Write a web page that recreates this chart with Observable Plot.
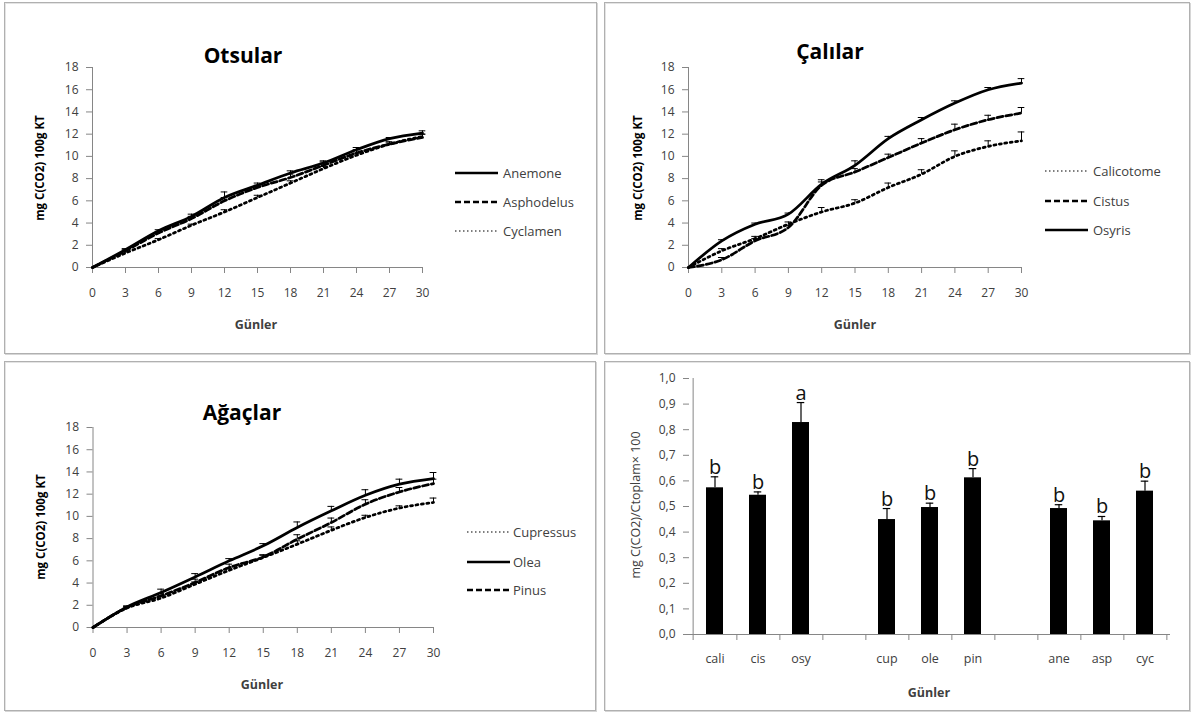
<!DOCTYPE html>
<html><head><meta charset="utf-8">
<script src="https://cdn.jsdelivr.net/npm/d3@7"></script>
<script src="https://cdn.jsdelivr.net/npm/@observablehq/plot@0.6"></script>
<style>
html,body{margin:0;padding:0;background:#fff;}
body{width:1192px;height:713px;position:relative;overflow:hidden;font-family:'Open Sans',sans-serif;}
.panel{position:absolute;box-sizing:border-box;border:1px solid #b0b0b0;box-shadow:1px 1px 0 #d6d6d6, inset 1px 1px 0 #e4e4e4;background:#fff;}
.panel svg{position:absolute;left:0;top:0;overflow:visible;}
.lab{position:absolute;white-space:nowrap;line-height:1;color:#404040;}
.leg{position:absolute;}
</style></head>
<body>
<script>
// ---------- data ----------
const days = [0,3,6,9,12,15,18,21,24,27,30];
const lineYTicks = [0,2,4,6,8,10,12,14,16,18];

// Otsular
const anemone      = [0,1.6,3.3,4.6,6.3,7.4,8.5,9.4,10.6,11.6,12.1];
const anemoneErr   = [0,0.1,0.1,0.2,0.5,0.2,0.2,0.2,0.2,0.1,0.2];
const asphodelus   = [0,1.5,3.1,4.4,6.0,7.2,8.1,9.2,10.3,11.1,11.7];
const asphodelusErr= [0,0.1,0.1,0.2,0.3,0.2,0.3,0.3,0.3,0.2,0.3];
const cyclamen     = [0,1.3,2.5,3.8,5.0,6.3,7.6,8.9,10.1,11.1,11.8];
const cyclamenErr  = [0,0.1,0.1,0.1,0.2,0.2,0.2,0.2,0.2,0.2,0.2];

// Çalılar
const calicotome    = [0,1.5,2.6,3.9,5.0,5.8,7.2,8.4,10.0,10.9,11.4];
const calicotomeErr = [0,0.2,0.2,0.2,0.4,0.3,0.4,0.4,0.5,0.5,0.8];
const cistus        = [0,0.7,2.4,3.6,7.4,8.6,9.9,11.2,12.4,13.3,13.9];
const cistusErr     = [0,0.2,0.2,0.2,0.3,0.3,0.3,0.4,0.5,0.4,0.5];
const osyris        = [0,2.4,3.9,4.8,7.5,9.2,11.6,13.3,14.8,16.0,16.6];
const osyrisErr     = [0,0.1,0.1,0.1,0.4,0.4,0.2,0.2,0.2,0.2,0.4];

// Ağaçlar
const cupressus    = [0,1.75,2.65,3.9,5.15,6.3,7.5,8.75,9.9,10.75,11.25];
const cupressusErr = [0,0.1,0.2,0.2,0.2,0.2,0.3,0.3,0.2,0.2,0.4];
const olea         = [0,1.85,3.15,4.55,6.0,7.35,9.0,10.5,11.9,12.9,13.4];
const oleaErr      = [0,0.1,0.3,0.3,0.2,0.2,0.5,0.4,0.5,0.45,0.55];
const pinus        = [0,1.8,2.85,4.05,5.4,6.35,7.95,9.45,11.1,12.2,12.95];
const pinusErr     = [0,0.1,0.2,0.3,0.3,0.2,0.4,0.4,0.4,0.4,0.4];

// Bar panel
const barCategories = ["cali","cis","osy","cup","ole","pin","ane","asp","cyc"];
const barGroups     = [0,0,0,1,1,1,2,2,2];
const barValues     = [0.573,0.544,0.828,0.449,0.496,0.612,0.492,0.444,0.560];
const barErrors     = [0.043,0.013,0.078,0.043,0.017,0.036,0.015,0.017,0.039];
const barLetters    = ["b","b","a","b","b","b","b","b","b"];
const barYTicks     = [0,0.1,0.2,0.3,0.4,0.5,0.6,0.7,0.8,0.9,1.0];

// ---------- styles ----------
const SOLID = null, DASH = "6,3", DOT = "2,3.5";
const AXIS = "#868686", TXT = "#404040";
const FONT = "'Open Sans', sans-serif";

// ---------- layout ----------
const panels = [
  {left:4,   top:2,   w:593, h:352, area:{x0:92,  x1:422,  yTop:67,  yBot:267}},
  {left:604, top:2,   w:586, h:352, area:{x0:688, x1:1021, yTop:67,  yBot:267}},
  {left:4,   top:361, w:592, h:350, area:{x0:92.5,x1:433,  yTop:427, yBot:627}},
  {left:604, top:361, w:586, h:350, area:{x0:689, x1:1170, yTop:378, yBot:634}}
];

function makePanel(p){
  const d = document.createElement("div");
  d.className = "panel";
  Object.assign(d.style,{left:p.left+"px",top:p.top+"px",width:p.w+"px",height:p.h+"px"});
  document.body.appendChild(d);
  return d;
}
function margins(p){
  const W = p.w-2, H = p.h-2, ox = p.left+1, oy = p.top+1, a = p.area;
  return {width:W, height:H, marginLeft:a.x0-ox, marginRight:ox+W-a.x1, marginTop:a.yTop-oy, marginBottom:oy+H-a.yBot};
}
function label(div, p, text, cx, cy, css, rotate){
  const s = document.createElement("div");
  s.className = "lab";
  s.textContent = text;
  s.style.left = (cx-p.left-1)+"px";
  s.style.top = (cy-p.top-1)+"px";
  s.style.transform = "translate(-50%,-50%)" + (rotate ? " rotate(-90deg)" : "");
  Object.assign(s.style, css||{});
  div.appendChild(s);
}
function legend(div, p, items, lx1, lx2, tx, ys){
  items.forEach((it,i)=>{
    const y = ys[i];
    const svg = document.createElementNS("http://www.w3.org/2000/svg","svg");
    svg.setAttribute("width", lx2-lx1); svg.setAttribute("height", 10);
    svg.setAttribute("class","leg");
    svg.style.left = (lx1-p.left-1)+"px"; svg.style.top = (y-5-p.top-1)+"px";
    const ln = document.createElementNS("http://www.w3.org/2000/svg","line");
    ln.setAttribute("x1",0); ln.setAttribute("x2",lx2-lx1); ln.setAttribute("y1",5); ln.setAttribute("y2",5);
    ln.setAttribute("stroke", it.dash === DOT ? "#555" : "#000");
    ln.setAttribute("stroke-width", it.dash === DOT ? 1.5 : 2.5);
    if (it.dash) ln.setAttribute("stroke-dasharray", it.dash === DOT ? "1.5,2.5" : it.dash);
    svg.appendChild(ln);
    div.appendChild(svg);
    const s = document.createElement("div");
    s.className = "lab";
    s.textContent = it.name;
    s.style.left = (tx-p.left-1)+"px";
    s.style.top = (y-p.top-1)+"px";
    s.style.transform = "translateY(-50%)";
    s.style.fontSize = "13px";
    div.appendChild(s);
  });
}

function linePlot(p, series){
  const m = margins(p);
  const rows = series.flatMap(s => days.map((d,i)=>({day:d, value:s.values[i], top:s.values[i]+s.err[i], name:s.name})));
  const errRows = rows.filter(r => r.day > 0);
  return Plot.plot({
    ...m,
    style:{fontFamily:FONT, fontSize:"12px", background:"transparent", overflow:"visible"},
    x:{domain:[0,30]},
    y:{domain:[0,18]},
    marks:[
      Plot.axisX({ticks:days, tickSize:6, tickPadding:15, stroke:AXIS, fill:TXT, label:null, tickFormat:d=>String(d)}),
      Plot.axisY({ticks:lineYTicks, tickSize:6, tickPadding:8, stroke:AXIS, fill:TXT, label:null, tickFormat:d=>String(d)}),
      Plot.ruleX([0], {stroke:AXIS}),
      Plot.ruleY([0], {stroke:AXIS}),
      Plot.ruleX(errRows, {x:"day", y1:"value", y2:"top", stroke:"#000", strokeWidth:1}),
      Plot.ruleY(errRows, {y:"top", x1:d=>d.day-0.3, x2:d=>d.day+0.3, stroke:"#000", strokeWidth:1}),
      ...series.map(s => Plot.line(rows.filter(r=>r.name===s.name), {x:"day", y:"value", stroke:"#000", strokeWidth:2.75, strokeDasharray:s.dash, curve:"monotone-x"}))
    ]
  });
}

const titleCss = {fontSize:"21px", fontWeight:"700", color:"#000"};
const yLabCss = {fontSize:"11.5px", fontWeight:"700", color:"#000"};
const xLabCss = {fontSize:"12.5px", fontWeight:"700", color:TXT};

// ---------- Panel 1: Otsular ----------
{
  const p = panels[0], div = makePanel(p);
  const series = [
    {name:"Anemone", values:anemone, err:anemoneErr, dash:SOLID},
    {name:"Asphodelus", values:asphodelus, err:asphodelusErr, dash:DASH},
    {name:"Cyclamen", values:cyclamen, err:cyclamenErr, dash:DOT}
  ];
  div.appendChild(linePlot(p, series));
  label(div, p, "Otsular", 243, 55, titleCss);
  label(div, p, "mg C(CO2) 100g KT", 40, 168, yLabCss, true);
  label(div, p, "Günler", 256, 325, xLabCss);
  legend(div, p, series, 455, 498, 503, [173,202,231]);
}
// ---------- Panel 2: Çalılar ----------
{
  const p = panels[1], div = makePanel(p);
  const series = [
    {name:"Calicotome", values:calicotome, err:calicotomeErr, dash:DOT},
    {name:"Cistus", values:cistus, err:cistusErr, dash:DASH},
    {name:"Osyris", values:osyris, err:osyrisErr, dash:SOLID}
  ];
  div.appendChild(linePlot(p, series));
  label(div, p, "Çalılar", 830, 51, titleCss);
  label(div, p, "mg C(CO2) 100g KT", 638, 168, yLabCss, true);
  label(div, p, "Günler", 855, 325, xLabCss);
  legend(div, p, series, 1045, 1088, 1093, [171,201,230]);
}
// ---------- Panel 3: Ağaçlar ----------
{
  const p = panels[2], div = makePanel(p);
  const series = [
    {name:"Cupressus", values:cupressus, err:cupressusErr, dash:DOT},
    {name:"Olea", values:olea, err:oleaErr, dash:SOLID},
    {name:"Pinus", values:pinus, err:pinusErr, dash:DASH}
  ];
  div.appendChild(linePlot(p, series));
  label(div, p, "Ağaçlar", 242, 412, titleCss);
  label(div, p, "mg C(CO2) 100g KT", 41, 527, yLabCss, true);
  label(div, p, "Günler", 262, 685, xLabCss);
  legend(div, p, series, 467, 510, 513, [532,562,590]);
}
// ---------- Panel 4: bars ----------
{
  const p = panels[3], div = makePanel(p);
  const m = margins(p);
  const domainAll = [];
  barCategories.forEach((c,i)=>{ if (i>0 && barGroups[i]!==barGroups[i-1]) domainAll.push("gap"+i); domainAll.push(c); });
  const rows = barCategories.map((c,i)=>({cat:c, value:barValues[i], top:barValues[i]+barErrors[i], letter:barLetters[i]}));
  const plotW = m.width - m.marginLeft - m.marginRight;
  const plotH = m.height - m.marginTop - m.marginBottom;
  const step = plotW / domainAll.length;
  const bw = step * 0.4;
  const capInset = (bw - 8) / 2;
  div.appendChild(Plot.plot({
    ...m,
    style:{fontFamily:FONT, fontSize:"12px", background:"transparent", overflow:"visible"},
    x:{domain:domainAll, paddingInner:0.6, paddingOuter:0.3},
    y:{domain:[0,1]},
    marks:[
      Plot.axisY({ticks:barYTicks, tickSize:6, tickPadding:8, stroke:AXIS, fill:TXT, label:null, tickFormat:d=>d.toFixed(1).replace(".",",")}),
      Plot.axisX({tickSize:0, tickPadding:20, fill:TXT, label:null, fontSize:12.5, tickFormat:d=>d.startsWith("gap")?"":d}),
      Plot.ruleY([0], {stroke:AXIS}),
      Plot.ruleX(domainAll.slice(0,1), {x:d=>d, dx:-step/2, insetBottom:-6, stroke:AXIS}),
      Plot.ruleX(domainAll, {x:d=>d, dx:step/2, insetTop:plotH, insetBottom:-6, stroke:AXIS}),
      Plot.ruleX(rows, {x:"cat", y1:"value", y2:"top", stroke:"#000", strokeWidth:1.2}),
      Plot.tickY(rows, {x:"cat", y:"top", stroke:"#000", strokeWidth:1.2, insetLeft:capInset, insetRight:capInset}),
      Plot.barY(rows, {x:"cat", y:"value", fill:"#000"}),
      Plot.text(rows, {x:"cat", y:"top", text:"letter", dy:-3, lineAnchor:"bottom", fontSize:20, fill:"#111"})
    ]
  }));
  label(div, p, "mg C(CO2)/Ctoplam× 100", 636, 505, {fontSize:"12.5px"}, true);
  label(div, p, "Günler", 929, 693, xLabCss);
}
</script>
</body></html>
